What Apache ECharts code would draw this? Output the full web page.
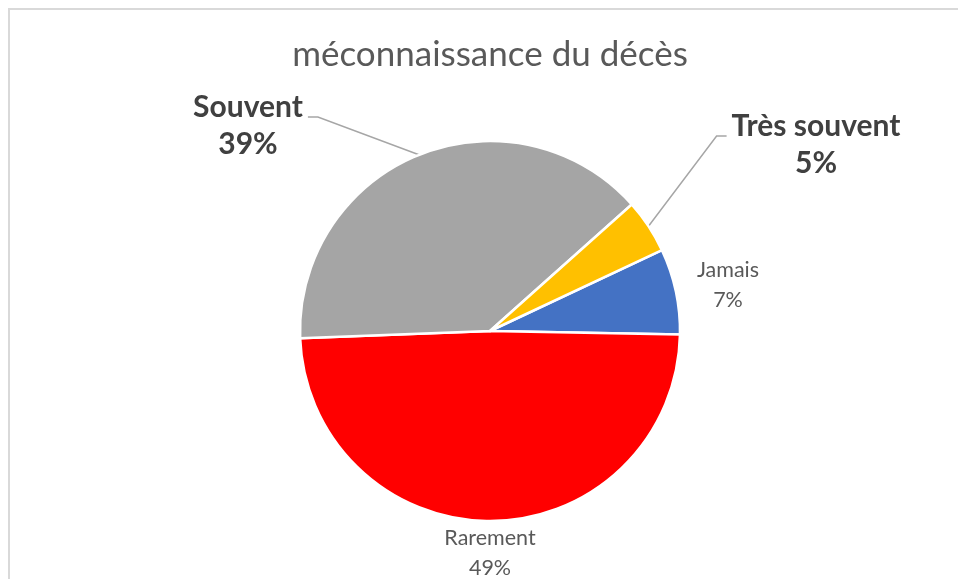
<!DOCTYPE html>
<html>
<head>
<meta charset="utf-8">
<script src="https://cdn.jsdelivr.net/npm/echarts@6/dist/echarts.min.js"></script>
<style>
  html, body { margin: 0; padding: 0; background: #ffffff; }
  #wrap { position: relative; width: 958px; height: 579px; overflow: hidden; }
  #frame { position: absolute; left: 8px; top: 8px; width: 1000px; height: 700px;
           border-top: 2px solid #d9d9d9; border-left: 2px solid #d9d9d9; box-sizing: border-box; }
  #chart { position: absolute; left: 0; top: 0; width: 958px; height: 579px; }
</style>
</head>
<body>
<div id="wrap">
  <div id="frame"></div>
  <div id="chart"></div>
</div>
<script>
// ---- data ----
var chartTitle = 'méconnaissance du décès';
var categories = ['Jamais', 'Rarement', 'Souvent', 'Très souvent'];
var values = [7.3, 49.1, 39.0, 4.6];
var colors = ['#4472C4', '#FF0000', '#A5A5A5', '#FFC000'];
var emphasized = [false, false, true, true];

// ---- label placement (label centres, px) ----
var labelPos = [
  [728, 285],
  [490, 553],
  [248, 126],
  [816, 145]
];

var chart = echarts.init(document.getElementById('chart'), null, { renderer: 'canvas' });

var seriesData = categories.map(function (c, i) {
  var big = emphasized[i];
  return {
    name: c,
    value: values[i],
    itemStyle: { color: colors[i] },
    label: {
      show: true,
      fontFamily: 'Lato',
      fontSize: big ? 30 : 21.5,
      fontWeight: big ? 'bold' : 'normal',
      color: big ? '#404040' : '#595959',
      lineHeight: big ? 37 : 30,
      align: 'center'
    },
    labelLine: { show: big }
  };
});

chart.setOption({
  animation: false,
  backgroundColor: 'transparent',
  title: {
    text: chartTitle,
    left: 490,
    textAlign: 'center',
    top: 37,
    padding: 0,
    textStyle: { fontFamily: 'Lato', fontWeight: 'normal', fontSize: 35, color: '#595959' }
  },
  series: [{
    type: 'pie',
    center: [490, 331],
    radius: 190,
    startAngle: 25.2,
    clockwise: true,
    avoidLabelOverlap: false,
    itemStyle: { borderColor: '#ffffff', borderWidth: 2.5 },
    label: {
      position: 'outside',
      formatter: function (p) { return p.name + '\n' + Math.round(p.percent) + '%'; }
    },
    labelLine: { show: true, length: 10, length2: 10, lineStyle: { color: '#A6A6A6', width: 1.5 } },
    labelLayout: function (params) {
      var i = params.dataIndex;
      var pos = labelPos[i];
      var out = { x: pos[0], y: pos[1], align: 'center', verticalAlign: 'middle' };
      if (emphasized[i] && params.labelLinePoints) {
        var w = params.labelRect.width;
        var start = params.labelLinePoints[0];
        var ly = pos[1] - 9;
        var side = start[0] < pos[0] ? -1 : 1;
        var edgeX = side < 0 ? pos[0] - w / 2 - 5 : pos[0] + w / 2 + 5;
        var elbowX = side < 0 ? edgeX - 10 : edgeX + 10;
        out.labelLinePoints = [start, [elbowX, ly], [edgeX, ly]];
      }
      return out;
    },
    data: seriesData
  }]
});
</script>
</body>
</html>
